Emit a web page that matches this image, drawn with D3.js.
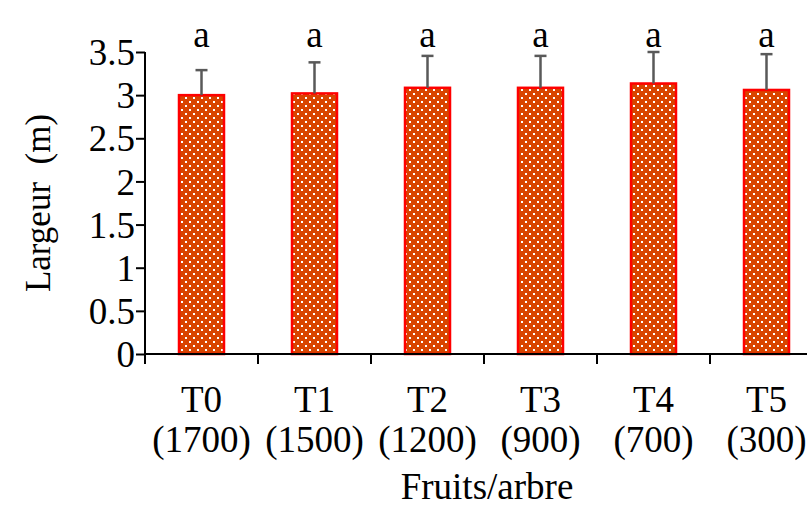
<!DOCTYPE html>
<html>
<head>
<meta charset="utf-8">
<script src="https://cdn.jsdelivr.net/npm/d3@7"></script>
<style>
html,body{margin:0;padding:0;background:#fff;overflow:hidden;}
svg{display:block;}
</style>
</head>
<body>
<svg id="chart" width="807" height="508"></svg>
<script>
const categories = ["T0", "T1", "T2", "T3", "T4", "T5"];
const subLabels = ["(1700)", "(1500)", "(1200)", "(900)", "(700)", "(300)"];
const values = [3.00, 3.02, 3.085, 3.085, 3.135, 3.06];
const errors = [0.29, 0.36, 0.37, 0.37, 0.365, 0.415];
const letters = ["a", "a", "a", "a", "a", "a"];
const yTicks = [0, 0.5, 1, 1.5, 2, 2.5, 3, 3.5];

const svg = d3.select("#chart");
const font = "'Liberation Serif','Times New Roman',serif";
const fs = 37;

const x = d3.scaleBand().domain(categories).range([145, 823]).paddingInner(0).paddingOuter(0);
const y = d3.scaleLinear().domain([0, 3.5]).range([354, 52]);

const defs = svg.append("defs");
const pat = defs.append("pattern").attr("id", "dots").attr("patternUnits", "userSpaceOnUse")
  .attr("width", 8).attr("height", 8);
pat.append("rect").attr("width", 8).attr("height", 8).attr("fill", "#d94400");
pat.append("rect").attr("x", 1).attr("y", 1).attr("width", 2).attr("height", 2).attr("fill", "#fff");
pat.append("rect").attr("x", 5).attr("y", 5).attr("width", 2).attr("height", 2).attr("fill", "#fff");

const bw = 45;
const data = categories.map((c, i) => ({c, v: values[i], e: errors[i], l: letters[i], s: subLabels[i]}));

// bars
svg.append("g").selectAll("rect").data(data).join("rect")
  .attr("x", d => x(d.c) + x.bandwidth() / 2 - bw / 2)
  .attr("y", d => y(d.v))
  .attr("width", bw)
  .attr("height", d => y(0) - y(d.v))
  .attr("fill", "url(#dots)")
  .attr("stroke", "#ff0000")
  .attr("stroke-width", 2.5);

// error bars
const eg = svg.append("g").attr("stroke", "#595959").attr("stroke-width", 2.5);
eg.selectAll("line.v").data(data).join("line").attr("class", "v")
  .attr("x1", d => x(d.c) + x.bandwidth() / 2).attr("x2", d => x(d.c) + x.bandwidth() / 2)
  .attr("y1", d => y(d.v)).attr("y2", d => y(d.v + d.e));
eg.selectAll("line.h").data(data).join("line").attr("class", "h")
  .attr("x1", d => x(d.c) + x.bandwidth() / 2 - 6).attr("x2", d => x(d.c) + x.bandwidth() / 2 + 6)
  .attr("y1", d => y(d.v + d.e)).attr("y2", d => y(d.v + d.e));

// letters
svg.append("g").selectAll("text").data(data).join("text")
  .attr("x", d => x(d.c) + x.bandwidth() / 2)
  .attr("y", 47)
  .attr("text-anchor", "middle")
  .attr("font-family", font).attr("font-size", fs)
  .text(d => d.l);

// y axis
const yAxis = d3.axisLeft(y).tickValues(yTicks).tickSize(9).tickPadding(1)
  .tickFormat(d => d3.format("")(d));
const gy = svg.append("g").attr("transform", "translate(145,0)").call(yAxis);
gy.select(".domain").attr("stroke", "#000").attr("stroke-width", 2).attr("d", `M0,${y(3.5)}V${y(0)}`);
gy.selectAll(".tick line").attr("stroke", "#000").attr("stroke-width", 2);
gy.selectAll(".tick text").attr("font-family", font).attr("font-size", fs).attr("fill", "#000").attr("dy", "0.34em");

// x axis
const gx = svg.append("g").attr("transform", "translate(0,354)");
gx.append("line").attr("x1", 145).attr("x2", 823).attr("y1", 0).attr("y2", 0)
  .attr("stroke", "#000").attr("stroke-width", 2);
const bounds = categories.map(c => x(c)).concat([x.range()[1]]);
gx.selectAll("line.t").data(bounds).join("line").attr("class", "t")
  .attr("x1", d => d).attr("x2", d => d).attr("y1", 0).attr("y2", 10)
  .attr("stroke", "#000").attr("stroke-width", 2);
gx.selectAll("text.c").data(data).join("text").attr("class", "c")
  .attr("x", d => x(d.c) + x.bandwidth() / 2).attr("y", 58)
  .attr("text-anchor", "middle").attr("font-family", font).attr("font-size", fs)
  .text(d => d.c);
gx.selectAll("text.s").data(data).join("text").attr("class", "s")
  .attr("x", d => x(d.c) + x.bandwidth() / 2).attr("y", 98)
  .attr("text-anchor", "middle").attr("font-family", font).attr("font-size", fs)
  .text(d => d.s);

// axis titles
svg.append("text").attr("x", 487).attr("y", 499).attr("text-anchor", "middle")
  .attr("font-family", font).attr("font-size", fs).text("Fruits/arbre");
svg.append("text").attr("transform", "translate(50,203) rotate(-90)").attr("text-anchor", "middle")
  .attr("font-family", font).attr("font-size", 35).attr("xml:space", "preserve").style("white-space", "pre")
  .text("Largeur  (m)");
</script>
</body>
</html>
